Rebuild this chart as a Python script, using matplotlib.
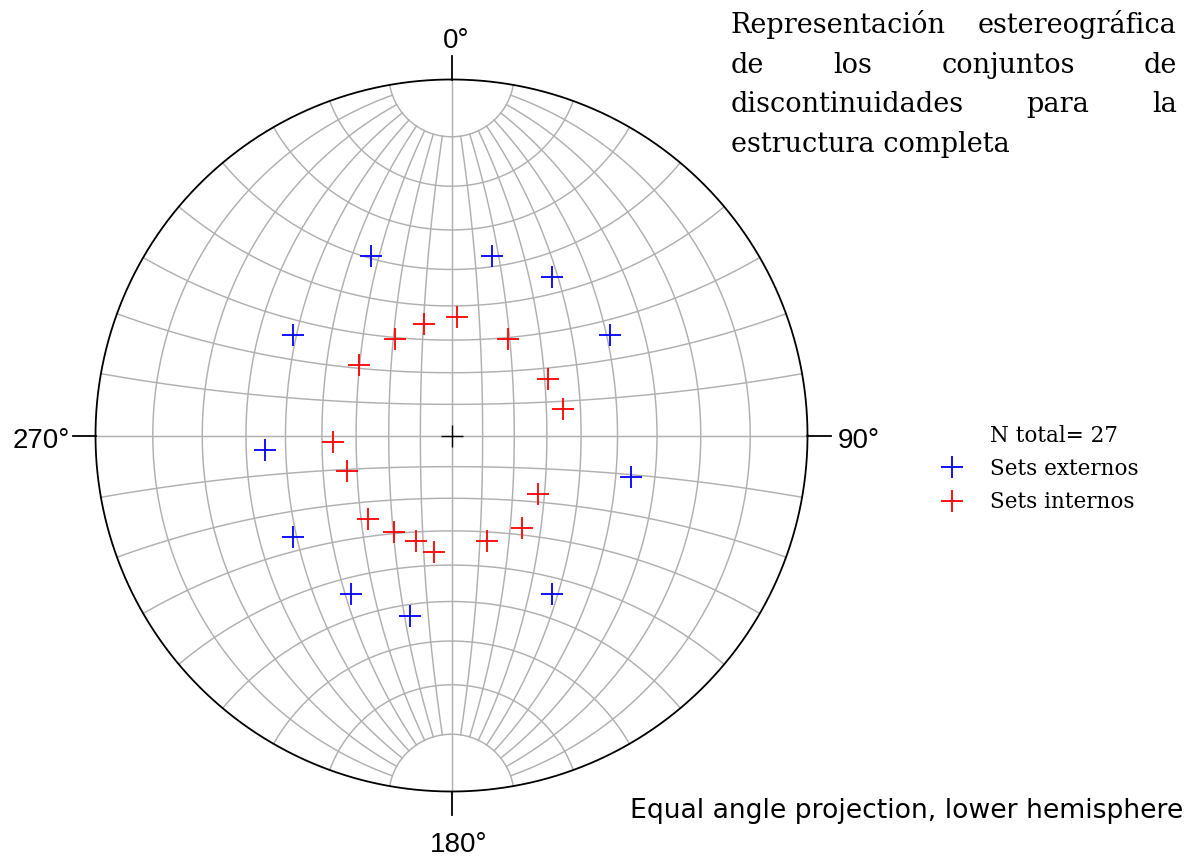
import numpy as np
import matplotlib
matplotlib.use('Agg')
import matplotlib.pyplot as plt

# Polos de las discontinuidades (tendencia / inmersión, en grados)
ext_trend = [335.9, 12.8, 32.4, 302.2, 57.7, 265.6, 103.1, 237.4, 212.3, 192.9, 147.7]
ext_plunge = [32.1, 35.3, 34.5, 34.4, 34.4, 34.5, 35.3, 34.4, 34.4, 35.1, 34.4]

int_trend = [2.5, 346.3, 329.4, 30.3, 307.4, 59.7, 76.7, 267.0, 251.3, 124.2,
             225.0, 210.6, 198.6, 188.4, 161.5, 142.5]
int_plunge = [53.2, 54.3, 55.2, 55.2, 53.9, 55.2, 54.2, 53.0, 55.5, 57.4,
              53.2, 54.9, 55.3, 53.4, 55.3, 53.8]

labels = ['Sets externos', 'Sets internos']
n_total = len(ext_trend) + len(int_trend)

title_lines = [
    ['Representación', 'estereográfica'],
    ['de', 'los', 'conjuntos', 'de'],
    ['discontinuidades', 'para', 'la'],
]
title_last = 'estructura completa'

# geometría de la figura (píxeles)
W, H = 1188, 857
CX, CY, R = 451.5, 435.5, 356.0
GRID = '#b0b0b0'


def px(x, y):
    return (x - CX) / R, (CY - y) / R


def wulff(trend, plunge):
    t = np.radians(np.asarray(trend))
    r = np.tan(np.radians(90 - np.asarray(plunge)) / 2)
    return r * np.sin(t), r * np.cos(t)


def net_point(lam, beta):
    lam, beta = np.radians(lam), np.radians(beta)
    d = 1 + np.cos(beta) * np.cos(lam)
    return np.cos(beta) * np.sin(lam) / d, np.sin(beta) / d


fig = plt.figure(figsize=(W / 100, H / 100), dpi=100)
ax = fig.add_axes([0, 0, 1, 1])
ax.set_xlim(-CX / R, (W - CX) / R)
ax.set_ylim((CY - H) / R, CY / R)
ax.axis('off')

# red de Wulff: meridianos cada 10° (cortados a 10° del polo)
beta = np.linspace(-80, 80, 200)
for lam in range(-80, 90, 10):
    if lam == 0:
        continue
    x, y = net_point(lam, beta)
    ax.plot(x, y, color=GRID, lw=1.05, zorder=1)
# círculos menores cada 10°
lam = np.linspace(-90, 90, 300)
for b in range(-80, 90, 10):
    if b == 0:
        continue
    x, y = net_point(lam, b)
    ax.plot(x, y, color=GRID, lw=1.05, zorder=1)
ax.plot([-1, 1], [0, 0], color=GRID, lw=1.05, zorder=1)
ax.plot([0, 0], [-1, 1], color=GRID, lw=1.05, zorder=1)

# círculo primitivo y marcas
a = np.linspace(0, 2 * np.pi, 500)
ax.plot(np.cos(a), np.sin(a), color='black', lw=1.3, zorder=3)
tk = 23 / R
ax.plot([0, 0], [1, 1 + tk], color='black', lw=1.3)
ax.plot([0, 0], [-1, -1 - tk], color='black', lw=1.3)
ax.plot([1, 1 + tk], [0, 0], color='black', lw=1.3)
ax.plot([-1, -1 - tk], [0, 0], color='black', lw=1.3)
ax.plot([0], [0], marker='+', color='black', ms=16, mew=1.0, zorder=4)

lab_font = dict(family='Liberation Sans', fontsize=20, va='baseline')
ax.text(*px(456, 48), '0°', ha='center', **lab_font)
ax.text(*px(459, 852), '180°', ha='center', **lab_font)
ax.text(*px(70, 448), '270°', ha='right', **lab_font)
ax.text(*px(838, 448), '90°', ha='left', **lab_font)

# polos
x, y = wulff(ext_trend, ext_plunge)
ax.plot(x, y, ls='none', marker='+', color='#0000ff', ms=16, mew=1.3, zorder=5)
x, y = wulff(int_trend, int_plunge)
ax.plot(x, y, ls='none', marker='+', color='#ff0000', ms=16, mew=1.3, zorder=5)

# leyenda
leg_font = dict(family='DejaVu Serif', fontsize=15.5, va='baseline', ha='left')
ax.text(*px(990, 442), f'N total= {n_total}', **leg_font)
ax.plot(*px(952, 467), marker='+', color='#0000ff', ms=16, mew=1.3)
ax.text(*px(990, 475), labels[0], **leg_font)
ax.plot(*px(952, 501), marker='+', color='#ff0000', ms=16, mew=1.3)
ax.text(*px(990, 508), labels[1], **leg_font)

# título justificado
title_font = dict(family='DejaVu Serif', fontsize=19.5, va='baseline', ha='left')
x0, x1 = 731, 1177
baselines = [33, 73, 112, 152]
renderer = fig.canvas.get_renderer()
for words, yb in zip(title_lines, baselines):
    texts = [ax.text(0, 0, w, **title_font) for w in words]
    widths = [t.get_window_extent(renderer).width for t in texts]
    gap = (x1 - x0 - sum(widths)) / (len(words) - 1)
    xp = x0
    for t, w in zip(texts, widths):
        t.set_position(px(xp, yb))
        xp += w + gap
ax.text(*px(x0, baselines[3]), title_last, **title_font)

ax.text(*px(1183, 818), 'Equal angle projection, lower hemisphere',
        family='DejaVu Sans', fontsize=19.2, va='baseline', ha='right')

fig.savefig('out.png', dpi=100)
